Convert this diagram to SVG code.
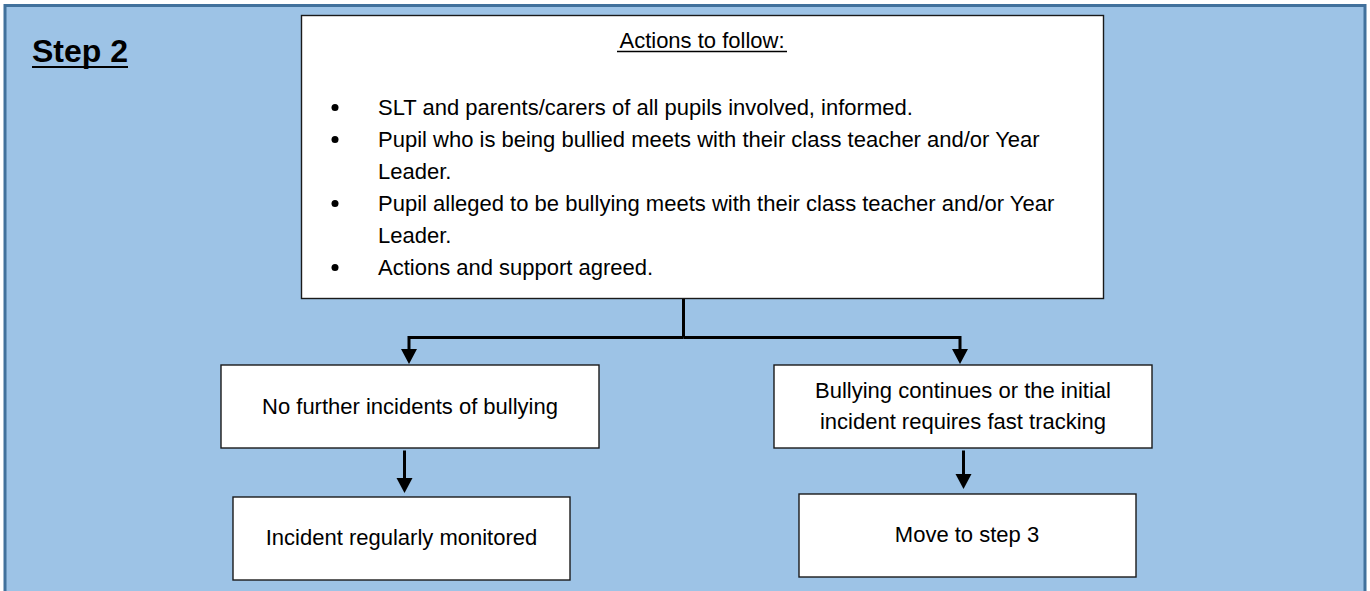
<svg xmlns="http://www.w3.org/2000/svg" width="1370" height="591" viewBox="0 0 1370 591">
  <defs>
    <style>
      .frame { fill: #9DC3E6; stroke: #41719C; stroke-width: 3; }
      .box { fill: #FFFFFF; stroke: #1a1a1a; stroke-width: 1.4; }
      .t { font-family: "Liberation Sans", Arial, sans-serif; font-size: 22px; fill: #000; }
      .c { text-anchor: middle; }
      .title { font-family: "Liberation Sans", Arial, sans-serif; font-size: 32px; font-weight: bold; fill: #000; }
      .conn { fill: none; stroke: #000; stroke-width: 3; }
      .bullet { fill: #000; }
    </style>
    <marker id="arrow" markerUnits="userSpaceOnUse" markerWidth="16" markerHeight="16" refX="0" refY="0" orient="auto" overflow="visible">
      <path d="M0,-8 L15,0 L0,8 z" fill="#000"/>
    </marker>
  </defs>

  <rect x="0" y="0" width="1370" height="591" fill="#FFFFFF"/>
  <rect class="frame" x="5" y="5.5" width="1360" height="620"/>

  <g id="step-title">
    <text class="title" x="32" y="62">Step 2</text>
    <line x1="32" y1="67" x2="128" y2="67" stroke="#000" stroke-width="2"/>
  </g>

  <g id="connectors">
    <path class="conn" d="M683.5,298.5 V337.5" stroke-width="3.5"/>
    <path class="conn" d="M683.5,337.5 H409 V349" marker-end="url(#arrow)"/>
    <path class="conn" d="M683.5,337.5 H960 V349" marker-end="url(#arrow)"/>
    <path class="conn" d="M404.5,450.5 V478" marker-end="url(#arrow)"/>
    <path class="conn" d="M963.5,450.5 V474" marker-end="url(#arrow)"/>
  </g>

  <g id="actions">
    <rect class="box" x="301.5" y="15.5" width="802" height="283"/>
    <text class="t c" x="702" y="48">Actions to follow:</text>
    <line x1="617" y1="51.5" x2="787" y2="51.5" stroke="#000" stroke-width="1.3"/>
    <circle class="bullet" cx="335" cy="107.5" r="3.5"/>
    <circle class="bullet" cx="335" cy="139.5" r="3.5"/>
    <circle class="bullet" cx="335" cy="203.5" r="3.5"/>
    <circle class="bullet" cx="335" cy="267.5" r="3.5"/>
    <text class="t" x="378" y="115">SLT and parents/carers of all pupils involved, informed.</text>
    <text class="t" x="378" y="147">Pupil who is being bullied meets with their class teacher and/or Year</text>
    <text class="t" x="378" y="179">Leader.</text>
    <text class="t" x="378" y="211">Pupil alleged to be bullying meets with their class teacher and/or Year</text>
    <text class="t" x="378" y="243">Leader.</text>
    <text class="t" x="378" y="275">Actions and support agreed.</text>
  </g>

  <g id="no-further">
    <rect class="box" x="221" y="365" width="378" height="83"/>
    <text class="t c" x="410" y="414">No further incidents of bullying</text>
  </g>

  <g id="bullying-continues">
    <rect class="box" x="774" y="365" width="378" height="83"/>
    <text class="t c" x="963" y="398">Bullying continues or the initial</text>
    <text class="t c" x="963" y="429">incident requires fast tracking</text>
  </g>

  <g id="monitored">
    <rect class="box" x="233" y="497" width="337" height="83"/>
    <text class="t c" x="401.5" y="545">Incident regularly monitored</text>
  </g>

  <g id="step3">
    <rect class="box" x="799" y="494" width="337" height="83"/>
    <text class="t c" x="967" y="542">Move to step 3</text>
  </g>
</svg>
